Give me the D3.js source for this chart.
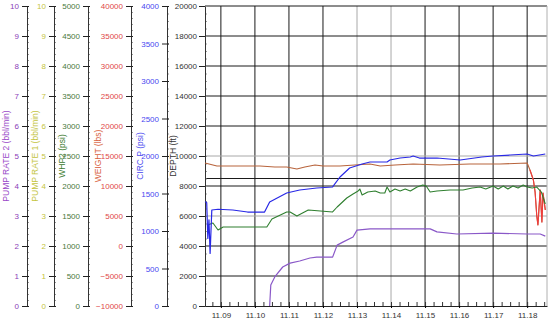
<!DOCTYPE html>
<html>
<head>
<meta charset="utf-8">
<script src="https://cdn.jsdelivr.net/npm/d3@7"></script>
<style>
  body { margin: 0; background: #fff; }
  text { font-family: "Liberation Sans", Arial, sans-serif; }
</style>
</head>
<body>
<svg id="chart" width="550" height="322"></svg>
<script>
// values
var circTime = ["11:08:32","11:08:35","11:08:37","11:08:39","11:08:41","11:08:44","11:08:55","11:09:21","11:09:47",
                "11:10:17","11:10:26","11:10:56","11:11:19","11:11:49","11:12:17","11:12:30","11:12:47","11:13:09",
                "11:13:23","11:13:53","11:13:58","11:14:16","11:14:34","11:14:39","11:14:50","11:15:21","11:16:02",
                "11:16:40","11:17:00","11:17:30","11:18:00","11:18:11","11:18:32"];
var circP    = [1390,1380,900,1150,700,1280,1290,1280,1253,
                1253,1387,1507,1547,1573,1587,1720,1840,1893,
                1920,1920,1947,1973,1987,2000,1973,1973,1947,
                1987,2000,2013,2027,2000,2027];

var whpTime = ["11:08:37","11:08:46","11:08:55","11:09:04","11:10:21","11:10:30","11:10:56","11:11:02","11:11:14",
               "11:11:34","11:12:17","11:12:25","11:12:42","11:12:53","11:13:02","11:13:05","11:13:09","11:13:19",
               "11:13:32","11:13:41","11:13:49","11:13:53","11:13:58","11:14:07","11:14:16","11:14:25","11:14:34",
               "11:14:46","11:14:56","11:15:02","11:15:09","11:15:21","11:15:44","11:16:07","11:16:23","11:16:37",
               "11:16:47","11:17:00","11:17:09","11:17:18","11:17:26","11:17:35","11:17:44","11:17:53","11:18:00",
               "11:18:09","11:18:17","11:18:25","11:18:32"];
var whp2    = [1350,1383,1267,1317,1317,1450,1567,1567,1500,
               1600,1567,1650,1800,1867,1917,1950,1850,1900,
               1917,1883,1883,1983,1900,1950,1917,1950,1917,
               1983,2017,2000,1900,1917,1933,1933,1967,1983,
               1950,2000,1950,2000,1950,2000,1967,2017,1983,
               1967,1983,1900,1700];

var wtTime = ["11:08:32","11:08:53","11:09:33","11:10:09","11:10:35","11:10:56","11:11:14","11:11:28","11:11:46",
              "11:12:00","11:12:30","11:12:56","11:13:23","11:13:41","11:14:07","11:14:39","11:15:26","11:16:19",
              "11:17:12","11:18:00","11:18:05","11:18:11","11:18:14","11:18:17","11:18:19","11:18:23","11:18:26",
              "11:18:28","11:18:32"];
var weight = [13833,13333,13333,13333,13167,13167,12833,13167,13500,
              13333,13333,13500,13667,13333,13500,13667,13500,13667,
              13667,13833,12667,11000,9000,5000,3500,9333,4000,
              8833,6000];

var prTime = ["11:10:26","11:10:28","11:10:35","11:10:49","11:11:02","11:11:19","11:11:37","11:11:49","11:12:17",
              "11:12:25","11:12:35","11:12:53","11:13:00","11:13:23","11:15:09","11:15:21","11:15:56","11:17:00",
              "11:18:00","11:18:23","11:18:32"];
var pumpRate2 = [0,0.7,0.97,1.3,1.43,1.5,1.6,1.63,1.63,
                 2.03,2.13,2.3,2.53,2.57,2.57,2.47,2.4,2.43,
                 2.4,2.4,2.33];

var depthLimit = 8500;
var timeRange = ["11:08:32","11:18:35"];

var parse = d3.timeParse("%H:%M:%S");
var svg = d3.select("#chart");

var top_ = 6, bot = 306, left = 205, right = 547;

var axes = [
  {key:"pr2",   title:"PUMP RATE 2 (bbl/min)", dom:[0,10],        step:1,    minor:0.2,  x:27,  tx:6,   col:"#8b40b8", tcol:"#9a48c8"},
  {key:"pr1",   title:"PUMP RATE 1 (bbl/min)", dom:[0,10],        step:1,    minor:0.2,  x:54,  tx:35,  col:"#c4c43e", tcol:"#c4c43e"},
  {key:"whp",   title:"WHP2 (psi)",            dom:[0,5000],      step:500,  minor:100,  x:88,  tx:62,  col:"#4a7a3c", tcol:"#3b7a2e"},
  {key:"wt",    title:"WEIGHT (lbs)",          dom:[-10000,40000],step:5000, minor:1000, x:131, tx:98,  col:"#e04848", tcol:"#d8603c"},
  {key:"circ",  title:"CIRC P (psi)",          dom:[0,4000],      step:500,  minor:100,  x:167, tx:140, col:"#4848f0", tcol:"#5050f0"},
  {key:"depth", title:"DEPTH (ft)",            dom:[0,20000],     step:2000, minor:500,  x:205, tx:173, col:"#333",    tcol:"#333"}
];

var y = {};
axes.forEach(function(a) {
  y[a.key] = d3.scaleLinear().domain(a.dom).range([bot, top_]);
});

var x = d3.scaleTime().domain(timeRange.map(parse)).range([left, right]);

// grid
var grid = svg.append("g");
var faintMinutes = ["11:13","11:14"];
var faintDepths = [10000, 6000];
x.ticks(d3.timeMinute.every(1)).forEach(function(t) {
  var faint = faintMinutes.indexOf(d3.timeFormat("%H:%M")(t)) >= 0;
  grid.append("line")
    .attr("x1", x(t)).attr("x2", x(t))
    .attr("y1", top_).attr("y2", bot)
    .attr("stroke", faint ? "#a8a8a8" : "#1a1a1a");
});
d3.range(2000, 20001, 2000).concat([depthLimit]).forEach(function(d) {
  var faint = faintDepths.indexOf(d) >= 0;
  grid.append("line")
    .attr("x1", left).attr("x2", right)
    .attr("y1", y.depth(d)).attr("y2", y.depth(d))
    .attr("stroke", faint ? "#a8a8a8" : "#1a1a1a");
});
grid.append("line")
  .attr("x1", right).attr("x2", right).attr("y1", top_).attr("y2", bot)
  .attr("stroke", "#b0b0b0");

// left axes
axes.forEach(function(a) {
  var s = y[a.key];
  var g = svg.append("g").attr("transform", "translate(" + a.x + ",0)");

  g.call(d3.axisRight(s)
      .tickValues(d3.range(a.dom[0], a.dom[1] + a.minor / 2, a.minor))
      .tickSize(2).tickSizeOuter(0).tickFormat(""))
    .call(function(g) { g.select(".domain").remove(); })
    .selectAll("line").attr("stroke", "#999");

  var major = svg.append("g").attr("transform", "translate(" + a.x + ",0)")
    .call(d3.axisLeft(s)
      .tickValues(d3.range(a.dom[0], a.dom[1] + a.step / 2, a.step))
      .tickSize(6).tickSizeOuter(0).tickPadding(2)
      .tickFormat(d3.format("d")));
  major.select(".domain").attr("stroke", "#333");
  major.selectAll(".tick line").attr("stroke", "#222").attr("x2", a.key == "depth" ? -6 : -5).attr("x1", a.key == "depth" ? 0 : 2);
  major.selectAll("text")
    .attr("fill", a.col)
    .style("font-size", "8px")
    .style("font-family", '"Liberation Sans", Arial, sans-serif');

  svg.append("text")
    .attr("transform", "translate(" + a.tx + "," + ((top_ + bot) / 2) + ") rotate(-90)")
    .attr("text-anchor", "middle")
    .attr("dy", "0.35em")
    .attr("fill", a.tcol)
    .style("font-size", "8.5px")
    .text(a.title);
});

// time axis
var xg = svg.append("g").attr("transform", "translate(0," + bot + ")");
xg.call(d3.axisTop(x).ticks(d3.timeSecond.every(15)).tickSize(4).tickSizeOuter(0).tickFormat(""))
  .selectAll("line").attr("stroke", "#333");
xg.select(".domain").attr("stroke", "#222");
var xl = svg.append("g").attr("transform", "translate(0," + bot + ")")
  .call(d3.axisBottom(x).ticks(d3.timeMinute.every(1)).tickSize(2).tickSizeOuter(0).tickPadding(4)
    .tickFormat(d3.timeFormat("%H.%M")));
xl.select(".domain").remove();
xl.selectAll("text").attr("fill", "#333").style("font-size", "8px")
  .style("font-family", '"Liberation Sans", Arial, sans-serif');

// series
function series(times, vals, scale, color, width) {
  var pts = times.map(function(t, i) { return [parse(t), vals[i]]; });
  svg.append("path")
    .datum(pts)
    .attr("fill", "none")
    .attr("stroke", color)
    .attr("stroke-width", width)
    .attr("stroke-linejoin", "round")
    .attr("d", d3.line().x(function(d) { return x(d[0]); }).y(function(d) { return scale(d[1]); }));
}

series(wtTime, weight, y.wt, "#b8643c", 1.1);
var lateIdx = wtTime.indexOf("11:18:00");
series(wtTime.slice(lateIdx + 1), weight.slice(lateIdx + 1), y.wt, "#f03c3c", 1.1);
series(whpTime, whp2, y.whp, "#2f7f2f", 1.1);
series(prTime, pumpRate2, y.pr2, "#8a58c8", 1.2);
series(circTime, circP, y.circ, "#2828e6", 1.2);
</script>
</body>
</html>
